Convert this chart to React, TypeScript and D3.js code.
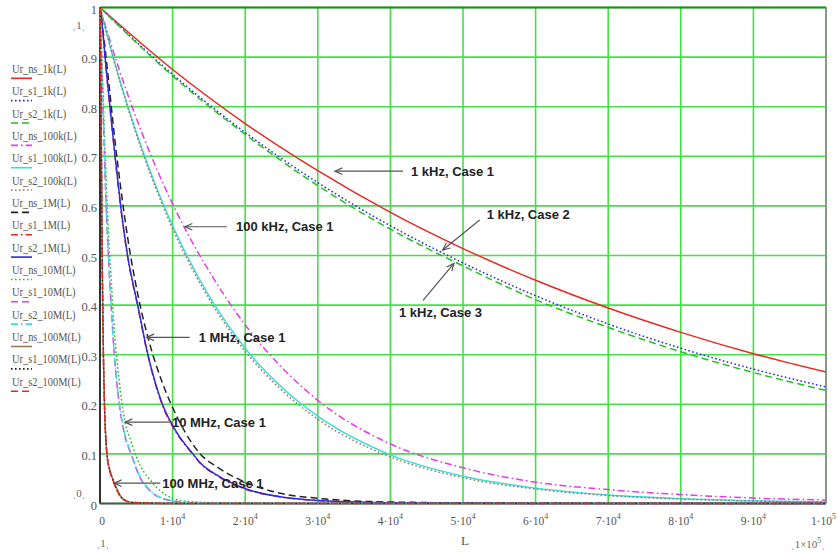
import React, { useRef, useEffect } from "react";
import * as d3 from "d3";

// L grids (m) and normalised voltage Ur
const L_1k = [0, 10000, 20000, 30000, 40000, 50000, 60000, 70000, 80000, 90000, 100000];
const Ur_ns_1k = [1, 0.875, 0.766, 0.671, 0.587, 0.514, 0.45, 0.394, 0.345, 0.302, 0.265];
const Ur_s1_1k = [1, 0.865, 0.748, 0.647, 0.56, 0.485, 0.419, 0.362, 0.313, 0.271, 0.235];
const Ur_s2_1k = [1, 0.862, 0.744, 0.641, 0.553, 0.479, 0.411, 0.355, 0.306, 0.264, 0.228];

const L_100k = [0, 2000, 4000, 6000, 8000, 10000, 12000, 15000, 20000, 25000, 30000, 40000, 50000, 60000, 70000, 80000, 90000, 100000];
const Ur_ns_100k = [1, 0.904, 0.817, 0.739, 0.668, 0.604, 0.546, 0.469, 0.36, 0.275, 0.208, 0.12, 0.072, 0.043, 0.028, 0.018, 0.011, 0.007];
const Ur_s1_100k = [1, 0.89, 0.793, 0.706, 0.629, 0.56, 0.499, 0.419, 0.313, 0.235, 0.176, 0.098, 0.055, 0.031, 0.017, 0.0097, 0.0054, 0.003];
const Ur_s2_100k = [1, 0.889, 0.79, 0.702, 0.624, 0.554, 0.493, 0.413, 0.307, 0.229, 0.17, 0.094, 0.052, 0.029, 0.016, 0.009, 0.005, 0.0027];

const L_1M = [0, 400, 700, 1370, 2080, 2850, 3800, 5200, 6600, 8600, 10500, 12800, 13800, 16000, 20000, 25000, 30000, 40000, 60000, 100000];
const Ur_ns_1M = [1, 0.955, 0.918, 0.826, 0.729, 0.637, 0.537, 0.422, 0.335, 0.243, 0.178, 0.119, 0.1, 0.075, 0.043, 0.02, 0.0105, 0.003, 0.0004, 0];
const Ur_s1_1M = [1, 0.949, 0.898, 0.797, 0.697, 0.597, 0.497, 0.397, 0.298, 0.198, 0.143, 0.099, 0.081, 0.057, 0.029, 0.013, 0.006, 0.0015, 0.0002, 0];
const Ur_s2_1M = [1, 0.95, 0.9, 0.8, 0.7, 0.6, 0.5, 0.4, 0.3, 0.2, 0.145, 0.1, 0.082, 0.058, 0.03, 0.013, 0.006, 0.0015, 0.0002, 0];

const L_10M = [0, 200, 400, 620, 850, 1150, 1530, 1970, 2660, 3400, 4270, 5600, 7000, 8600, 12000, 20000, 100000];
const Ur_ns_10M = [1, 0.925, 0.84, 0.745, 0.655, 0.55, 0.455, 0.35, 0.245, 0.168, 0.125, 0.075, 0.046, 0.022, 0.004, 0.0003, 0];
const Ur_s1_10M = [1, 0.9, 0.8, 0.7, 0.6, 0.5, 0.4, 0.3, 0.2, 0.138, 0.1, 0.05, 0.024, 0.01, 0.002, 0.0002, 0];
const Ur_s2_10M = [1, 0.902, 0.803, 0.703, 0.603, 0.503, 0.403, 0.303, 0.203, 0.141, 0.102, 0.052, 0.025, 0.011, 0.002, 0.0002, 0];

const L_100M = [0, 80, 150, 200, 250, 300, 380, 470, 620, 960, 1400, 1750, 2300, 3100, 4500, 10000, 100000];
const Ur_ns_100M = [1, 0.9, 0.8, 0.7, 0.6, 0.5, 0.4, 0.3, 0.2, 0.1, 0.065, 0.05, 0.03, 0.01, 0.002, 0, 0];
const Ur_s1_100M = [1, 0.895, 0.795, 0.695, 0.595, 0.497, 0.398, 0.298, 0.199, 0.099, 0.064, 0.049, 0.029, 0.01, 0.002, 0, 0];
const Ur_s2_100M = [1, 0.893, 0.792, 0.692, 0.592, 0.494, 0.395, 0.296, 0.197, 0.098, 0.063, 0.048, 0.028, 0.009, 0.002, 0, 0];

const xTicks = [0, 10000, 20000, 30000, 40000, 50000, 60000, 70000, 80000, 90000, 100000];
const yTicks = [0, 0.1, 0.2, 0.3, 0.4, 0.5, 0.6, 0.7, 0.8, 0.9, 1];

// annotation: label, arrow tip in data units (L, Ur)
const annoLabels = ["1 kHz, Case 1", "100 kHz, Case 1", "1 kHz, Case 2", "1 kHz, Case 3", "1 MHz, Case 1", "10 MHz, Case 1", "100 MHz, Case 1"];
const annoTipL = [32370, 11710, 47200, 48760, 6430, 3440, 1970];
const annoTipU = [0.67, 0.558, 0.511, 0.484, 0.335, 0.164, 0.041];

// mathcad trace styles
const RED = "#e42a22", BLUE = "#2a2ae0", GREEN = "#22c022", MAG = "#e63ce6", CYAN = "#3cdcdc", BROWN = "#9a7a5a", BLACK = "#222";
const DASH = { solid: null, dot: "1.6,2.4", dash: "7,4", dadot: "7,3,1.6,3" };

const traces = [
  { name: "Ur_ns_1k(L)", L: L_1k, U: Ur_ns_1k, color: RED, dash: DASH.solid },
  { name: "Ur_s1_1k(L)", L: L_1k, U: Ur_s1_1k, color: BLUE, dash: DASH.dot },
  { name: "Ur_s2_1k(L)", L: L_1k, U: Ur_s2_1k, color: GREEN, dash: DASH.dash },
  { name: "Ur_ns_100k(L)", L: L_100k, U: Ur_ns_100k, color: MAG, dash: DASH.dadot },
  { name: "Ur_s1_100k(L)", L: L_100k, U: Ur_s1_100k, color: CYAN, dash: DASH.solid },
  { name: "Ur_s2_100k(L)", L: L_100k, U: Ur_s2_100k, color: BROWN, dash: DASH.dot },
  { name: "Ur_ns_1M(L)", L: L_1M, U: Ur_ns_1M, color: BLACK, dash: DASH.dash },
  { name: "Ur_s1_1M(L)", L: L_1M, U: Ur_s1_1M, color: RED, dash: DASH.dadot },
  { name: "Ur_s2_1M(L)", L: L_1M, U: Ur_s2_1M, color: BLUE, dash: DASH.solid },
  { name: "Ur_ns_10M(L)", L: L_10M, U: Ur_ns_10M, color: GREEN, dash: DASH.dot },
  { name: "Ur_s1_10M(L)", L: L_10M, U: Ur_s1_10M, color: MAG, dash: DASH.dash },
  { name: "Ur_s2_10M(L)", L: L_10M, U: Ur_s2_10M, color: CYAN, dash: DASH.dadot },
  { name: "Ur_ns_100M(L)", L: L_100M, U: Ur_ns_100M, color: BROWN, dash: DASH.solid },
  { name: "Ur_s1_100M(L)", L: L_100M, U: Ur_s1_100M, color: BLACK, dash: DASH.dot },
  { name: "Ur_s2_100M(L)", L: L_100M, U: Ur_s2_100M, color: RED, dash: DASH.dash },
];

// pixel offsets of arrow start and label from the tip
const annoLayout = [
  { ax: 68, ay: 0, tx: 76, ty: 0 },
  { ax: 42, ay: 0, tx: 51, ty: 0 },
  { ax: 37, ay: -30, tx: 44, ty: -36 },
  { ax: -31, ay: 37, tx: -55, ty: 49 },
  { ax: 43, ay: 0, tx: 52, ty: 0 },
  { ax: 48, ay: 0, tx: 47, ty: 0 },
  { ax: 46, ay: 0, tx: 48, ty: 0 },
];

const W = 838, H = 552;
const SERIF = "'Liberation Serif', 'DejaVu Serif', serif";
const SANS = "'Liberation Sans', Arial, sans-serif";

const App = () => {
  const ref = useRef<SVGSVGElement>(null);

  useEffect(() => {
    const svg = d3.select(ref.current);
    svg.selectAll("*").remove();

    const x = d3.scaleLinear().domain([0, 100000]).range([100, 826]);
    const y = d3.scaleLinear().domain([0, 1]).range([503.5, 7.5]);
    const [x0, x1] = x.range();
    const [y0, y1] = y.range();

    svg.append("rect").attr("width", W).attr("height", H).attr("fill", "#fff");

    svg.append("defs").append("clipPath").attr("id", "plot")
      .append("rect").attr("x", x0 - 1).attr("y", y1 - 1)
      .attr("width", x1 - x0 + 2).attr("height", y0 - y1 + 2);

    // grid
    const grid = svg.append("g").attr("stroke", "#46e046").attr("stroke-width", 1.6);
    xTicks.forEach((t) => {
      grid.append("line").attr("x1", x(t)).attr("x2", x(t)).attr("y1", y1).attr("y2", y0);
    });
    yTicks.forEach((t) => {
      grid.append("line").attr("x1", x0).attr("x2", x1).attr("y1", y(t)).attr("y2", y(t));
    });

    // frame
    svg.append("line").attr("x1", x0).attr("x2", x1).attr("y1", y1).attr("y2", y1)
      .attr("stroke", "#1e8a1e").attr("stroke-width", 2);
    svg.append("line").attr("x1", x1).attr("x2", x1).attr("y1", y1).attr("y2", y0)
      .attr("stroke", "#8a8a8a").attr("stroke-width", 1.6);
    svg.append("line").attr("x1", x0).attr("x2", x1).attr("y1", y0).attr("y2", y0)
      .attr("stroke", "#555").attr("stroke-width", 2);
    svg.append("line").attr("x1", x0).attr("x2", x0).attr("y1", y1).attr("y2", y0)
      .attr("stroke", "#333").attr("stroke-width", 2);

    // traces
    const curves = svg.append("g").attr("clip-path", "url(#plot)");
    const gen = d3.line().curve(d3.curveMonotoneX);
    traces.forEach((tr) => {
      const pts: [number, number][] = tr.L.map((l, i) => [x(l), y(tr.U[i])]);
      curves.append("path")
        .attr("d", gen(pts))
        .attr("fill", "none")
        .attr("stroke", tr.color)
        .attr("stroke-width", 1.5)
        .attr("stroke-dasharray", tr.dash);
    });

    // y tick labels
    yTicks.forEach((t) => {
      svg.append("text")
        .attr("x", x0 - 3).attr("y", y(t) + 6)
        .attr("text-anchor", "end")
        .style("font-family", SERIF).style("font-size", "12.5px")
        .attr("fill", "#555")
        .text(t === 0 || t === 1 ? `${t}` : t.toFixed(1));
    });

    // x tick labels with superscript exponents
    xTicks.forEach((t, i) => {
      const last = i === xTicks.length - 1;
      const txt = svg.append("text")
        .attr("x", t === 0 ? x(t) + 2 : last ? 836 : x(t)).attr("y", 525)
        .attr("text-anchor", last ? "end" : "middle")
        .style("font-family", SERIF).style("font-size", "11.5px")
        .attr("fill", "#555");
      if (t === 0) {
        txt.text("0");
      } else {
        const exp = Math.floor(Math.log10(t));
        const mant = t / Math.pow(10, exp);
        txt.append("tspan").text(`${mant}\u00b710`);
        txt.append("tspan").attr("dy", -6).style("font-size", "8px").text(`${exp}`);
      }
    });

    svg.append("text").attr("x", 465).attr("y", 545).attr("text-anchor", "middle")
      .style("font-family", SERIF).style("font-size", "13px").attr("fill", "#555").text("L");

    // mathcad limit placeholders
    const ph = (px: number, py: number, s: string, sup?: string) => {
      const t = svg.append("text").attr("x", px).attr("y", py).attr("text-anchor", "middle")
        .style("font-family", SERIF).style("font-size", "11px").attr("fill", "#666");
      t.append("tspan").text(`\u02cc${s}`);
      if (sup) t.append("tspan").attr("dy", -5).style("font-size", "8px").text(sup);
      t.append("tspan").attr("dy", sup ? 5 : 0).text("\u02cc");
    };
    ph(79, 29, "1");
    ph(79, 497, "0");
    ph(103, 547, "1");
    ph(808, 548, "1\u00d710", "5");

    // legend
    const lg = svg.append("g");
    traces.forEach((tr, i) => {
      const cy = 68.3 + i * 22.35;
      lg.append("text")
        .attr("transform", `translate(12,${cy + 4.5}) scale(0.8,1)`)
        .style("font-family", SERIF).style("font-size", "13px").attr("fill", "#555")
        .text(tr.name);
      lg.append("line").attr("x1", 11).attr("x2", 32).attr("y1", cy + 10).attr("y2", cy + 10)
        .attr("stroke", tr.color).attr("stroke-width", 1.6)
        .attr("stroke-dasharray", tr.dash);
    });

    // annotations
    const an = svg.append("g");
    annoLabels.forEach((label, i) => {
      const tx = x(annoTipL[i]), ty = y(annoTipU[i]);
      const lay = annoLayout[i];
      const sx = tx + lay.ax, sy = ty + lay.ay;
      const ang = Math.atan2(sy - ty, sx - tx);
      const hl = 8, hw = 0.42;
      an.append("line").attr("x1", sx).attr("y1", sy).attr("x2", tx).attr("y2", ty)
        .attr("stroke", "#555").attr("stroke-width", 1.2);
      an.append("path")
        .attr("d", `M${tx + hl * Math.cos(ang + hw)},${ty + hl * Math.sin(ang + hw)}L${tx},${ty}L${tx + hl * Math.cos(ang - hw)},${ty + hl * Math.sin(ang - hw)}`)
        .attr("fill", "none").attr("stroke", "#555").attr("stroke-width", 1.2);
      an.append("text").attr("x", tx + lay.tx).attr("y", ty + lay.ty).attr("dy", "0.36em")
        .style("font-family", SANS).style("font-size", "13px").style("font-weight", "bold")
        .attr("fill", "#222").text(label);
    });
  }, []);

  return (
    <div style={{ position: "absolute", left: 0, top: 0 }}>
      <svg ref={ref} width={W} height={H}></svg>
    </div>
  );
};

export default App;
